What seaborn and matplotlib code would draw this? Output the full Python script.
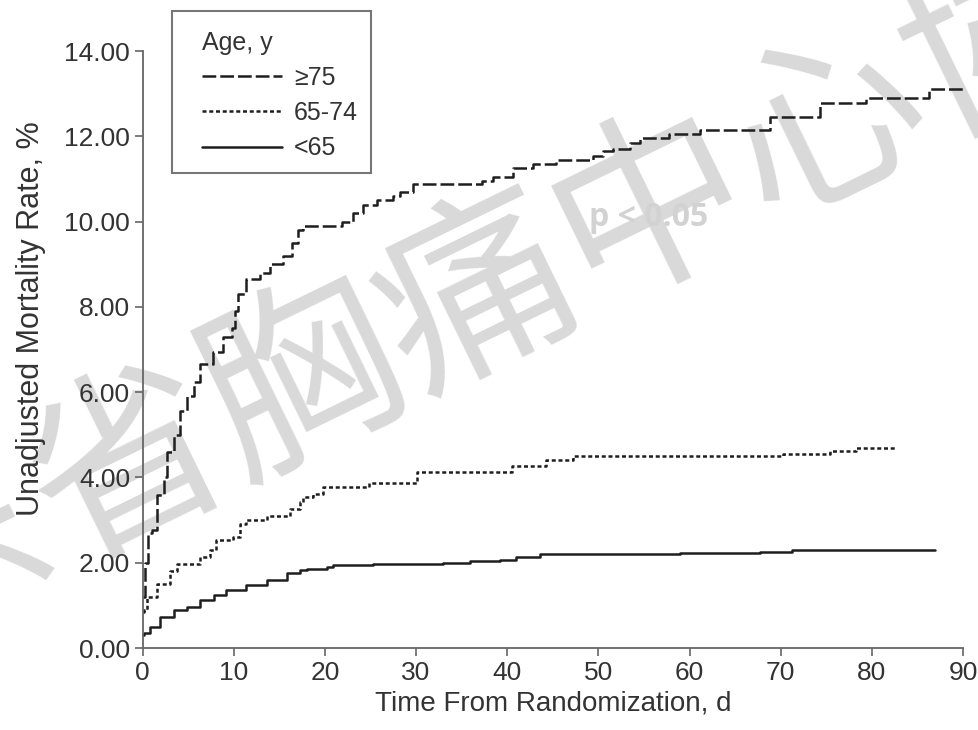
import matplotlib
matplotlib.use('Agg')
import matplotlib.pyplot as plt
from matplotlib.patches import Rectangle
import seaborn as sns
import pandas as pd

# cumulative mortality (%)
days_75 = [0, 0.3, 0.65, 1.0, 1.55, 2.3, 2.65, 3.4, 4.1, 4.85, 5.6, 6.3, 7.7, 8.8, 9.8,
           10.1, 10.5, 11.4, 12.9, 14.0, 15.4, 16.4, 17.1, 17.6, 21.9, 23.1, 24.2, 25.7,
           27.5, 28.2, 29.7, 37.2, 38.4, 40.6, 42.8, 45.4, 49.4, 50.5, 51.6, 53.5, 54.6,
           57.8, 61.1, 68.8, 74.3, 79.4, 86.3, 90.0]
rate_75 = [1.2, 2.0, 2.7, 2.76, 3.6, 4.0, 4.6, 5.0, 5.55, 5.9, 6.25, 6.65, 6.95, 7.3, 7.5,
           7.9, 8.3, 8.65, 8.8, 9.0, 9.2, 9.5, 9.8, 9.9, 10.0, 10.2, 10.4, 10.5,
           10.6, 10.7, 10.88, 10.95, 11.05, 11.25, 11.35, 11.45, 11.55, 11.65, 11.7, 11.85, 11.95,
           12.05, 12.15, 12.45, 12.78, 12.9, 13.1, 13.1]

days_65 = [0, 0.15, 0.46, 1.55, 3.0, 3.75, 6.3, 7.4, 8.1, 9.9, 10.7, 11.4, 13.6, 16.2,
           17.3, 17.6, 18.7, 19.8, 24.8, 30.1, 40.5, 44.3, 47.2, 70.3, 75.4, 78.3, 82.5]
rate_65 = [0.85, 0.9, 1.2, 1.5, 1.8, 1.98, 2.14, 2.29, 2.53, 2.6, 2.9, 3.0, 3.1, 3.27,
           3.42, 3.53, 3.62, 3.77, 3.88, 4.12, 4.28, 4.4, 4.5, 4.56, 4.63, 4.7, 4.7]

days_lt65 = [0, 0.16, 0.8, 1.9, 3.4, 4.85, 6.3, 7.8, 9.2, 11.4, 13.6, 15.8, 17.3, 18.0,
             20.2, 20.9, 25.3, 33.0, 35.9, 39.2, 41.0, 43.6, 59.0, 67.7, 71.2, 86.9]
rate_lt65 = [0.3, 0.35, 0.5, 0.73, 0.89, 0.97, 1.12, 1.24, 1.36, 1.47, 1.59, 1.75, 1.82, 1.85,
             1.9, 1.95, 1.98, 2.0, 2.03, 2.07, 2.13, 2.2, 2.23, 2.26, 2.3, 2.3]

groups = ['≥75', '65-74', '<65']
x_ticks = list(range(0, 91, 10))
y_ticks = list(range(0, 15, 2))

sns.set_style('ticks')
plt.rcParams['font.family'] = ['Liberation Sans', 'DejaVu Sans']

fig = plt.figure(figsize=(9.79, 7.30), dpi=100)
ax = fig.add_axes([0.1456, 0.1123, 0.8381, 0.8178])
ax.patch.set_alpha(0)

# watermark behind the plot
fig.text(0.49, 0.59, '广东省胸痛中心协会', family=['Noto Sans CJK SC'], fontsize=140,
         color='#d9d9d9', rotation=26, ha='center', va='center',
         rotation_mode='anchor', zorder=-5)

ink = '#1e1e1e'
styles = {
    '≥75': (0, (5.5, 1.6)),
    '65-74': (0, (1.6, 1.1)),
    '<65': '-',
}
data = {
    '≥75': (days_75, rate_75),
    '65-74': (days_65, rate_65),
    '<65': (days_lt65, rate_lt65),
}
for g in groups:
    df = pd.DataFrame({'day': data[g][0], 'rate': data[g][1]})
    sns.lineplot(data=df, x='day', y='rate', ax=ax, color=ink, linewidth=1.8,
                 linestyle=styles[g], drawstyle='steps-post', estimator=None,
                 sort=False, label=g, clip_on=False)

ax.text(55.5, 10.1, 'p < 0.05', fontsize=23, fontweight='bold', color='#d2d2d2',
        family=['Open Sans'], ha='center', va='center')

ax.set_xlim(0, 90)
ax.set_ylim(0, 14)
ax.set_xticks(x_ticks)
ax.set_yticks(y_ticks)
ax.set_yticklabels([f'{v:.2f}' for v in y_ticks])
sns.despine(ax=ax)
for s in ['left', 'bottom']:
    ax.spines[s].set_color('#666666')
    ax.spines[s].set_linewidth(1.3)
ax.tick_params(length=6, width=1.2, color='#666666', labelsize=19,
               labelcolor='#333333', pad=3)

ax.set_xlabel('Time From Randomization, d', fontsize=20, color='#333333', labelpad=4)
ax.set_ylabel('Unadjusted Mortality Rate, %', fontsize=22, color='#333333')
ax.yaxis.set_label_coords(-0.118, 0.551)

# legend content without frame, frame drawn separately
leg = ax.legend(title='Age, y', loc='upper left', bbox_to_anchor=(0.2063, 0.958),
                bbox_transform=fig.transFigure, borderaxespad=0, borderpad=0,
                frameon=False, fontsize=18, title_fontsize=18, handlelength=3.2,
                handletextpad=0.48, labelspacing=0.45, alignment='left')
for t in leg.get_texts():
    t.set_color('#333333')
leg.get_title().set_color('#333333')
fig.patches.append(Rectangle((0.1757, 0.763), 0.2033, 0.222, transform=fig.transFigure,
                             fill=False, edgecolor='#777777', linewidth=1.5, zorder=2))

fig.savefig('out.png', dpi=100)
